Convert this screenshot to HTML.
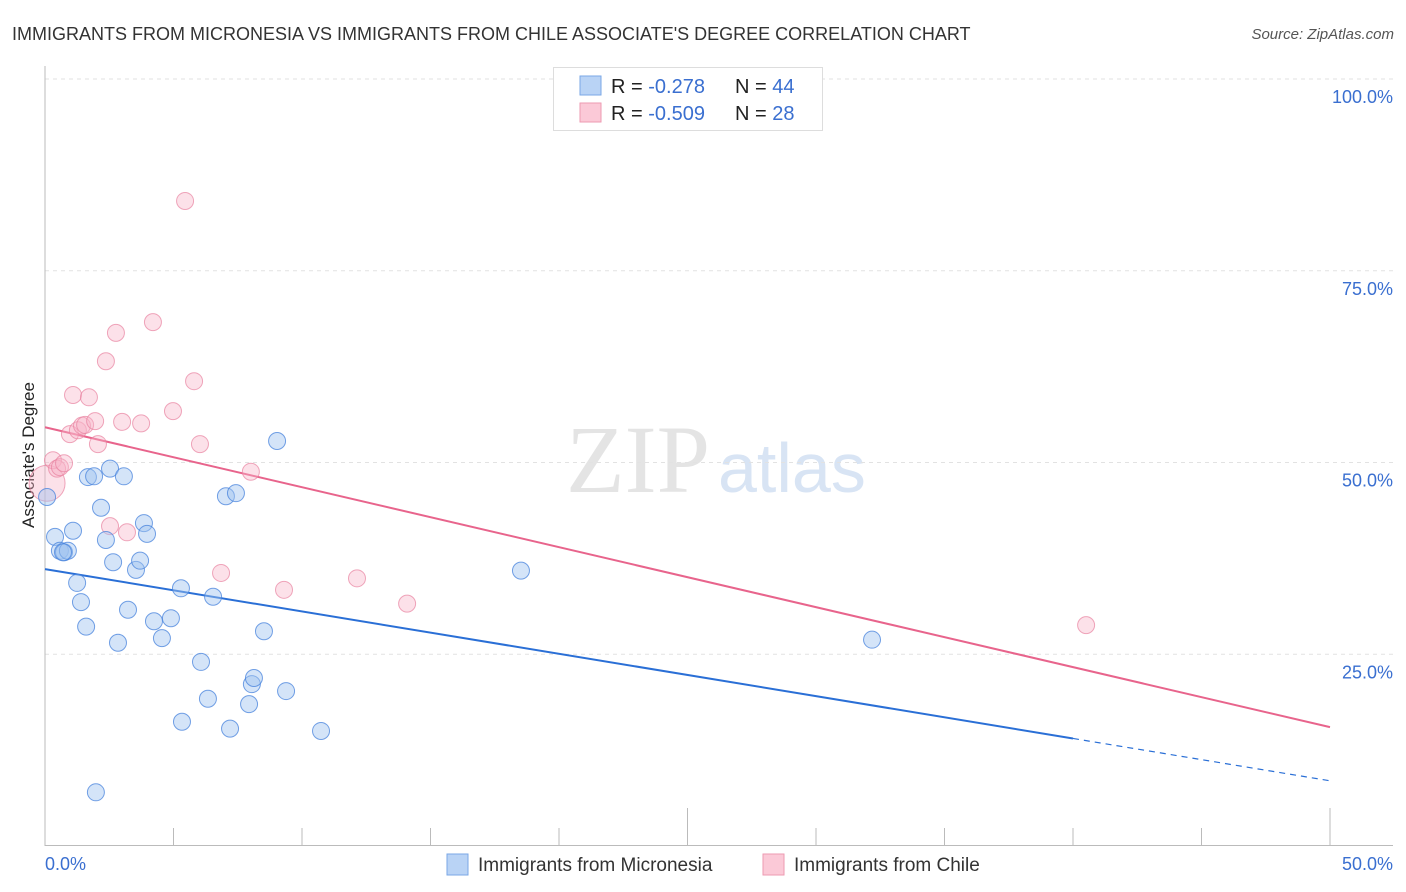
<!DOCTYPE html>
<html><head><meta charset="utf-8"><style>
body{margin:0;background:#fff;font-family:"Liberation Sans",sans-serif;}
svg{display:block}
</style></head><body>
<svg id="chart" width="1406" height="892">
<text x="12" y="40" font-size="18" fill="#333">IMMIGRANTS FROM MICRONESIA VS IMMIGRANTS FROM CHILE ASSOCIATE'S DEGREE CORRELATION CHART</text>
<text x="1394" y="39" font-size="15" fill="#555" text-anchor="end" font-style="italic">Source: ZipAtlas.com</text>
<text x="710" y="492" font-size="96" fill="#e4e4e4" text-anchor="end" font-family="Liberation Serif">ZIP</text>
<text x="718" y="492" font-size="70" fill="#d8e4f4">atlas</text>
<text transform="translate(34,455) rotate(-90)" font-size="17" fill="#222" text-anchor="middle">Associate's Degree</text>
<g id="grid"></g><g id="axes"></g><g id="trend"></g><g id="pts"></g>
<g>
<rect x="553.5" y="67.5" width="269" height="63" fill="#fff" stroke="#ddd"/>
<rect x="580" y="76" width="21" height="19" fill="#b9d3f5" stroke="#7aa7e6"/>
<rect x="580" y="103" width="21" height="19" fill="#fbc9d7" stroke="#ee9ab2"/>
<text x="611" y="93" font-size="20" fill="#222">R = <tspan fill="#3a6fd0">-0.278</tspan></text>
<text x="735" y="93" font-size="20" fill="#222">N = <tspan fill="#3a6fd0">44</tspan></text>
<text x="611" y="120" font-size="20" fill="#222">R = <tspan fill="#3a6fd0">-0.509</tspan></text>
<text x="735" y="120" font-size="20" fill="#222">N = <tspan fill="#3a6fd0"> 28</tspan></text>
</g>
<g>
<rect x="447" y="854" width="21" height="21" fill="#b9d3f5" stroke="#7aa7e6"/>
<text x="478" y="871" font-size="19" fill="#333">Immigrants from Micronesia</text>
<rect x="763" y="854" width="21" height="21" fill="#fbc9d7" stroke="#ee9ab2"/>
<text x="794" y="871" font-size="19" fill="#333">Immigrants from Chile</text>
</g>
</svg>
<script>
const blueX=[0.08,0.39,0.58,0.74,0.89,1.09,1.25,1.40,1.60,1.67,1.91,1.98,2.18,2.37,2.53,2.65,2.84,3.07,3.23,3.54,3.70,3.85,3.97,4.24,4.55,4.90,5.29,5.33,6.07,6.34,6.54,7.04,7.20,7.43,7.94,8.05,8.13,8.52,9.03,9.38,10.74,18.52,32.18,0.70];
const blueY=[45.5,40.3,38.5,38.3,38.5,41.1,34.3,31.8,28.6,48.1,48.2,7.0,44.1,39.9,49.2,37.0,26.5,48.2,30.8,36.0,37.2,42.1,40.7,29.3,27.1,29.7,33.6,16.2,24.0,19.2,32.5,45.6,15.3,46.0,18.5,21.1,21.9,28.0,52.8,20.2,15.0,35.9,26.9,38.3];
const pinkX=[0.08,0.31,0.47,0.58,0.74,0.97,1.09,1.28,1.44,1.56,1.71,1.95,2.06,2.37,2.53,2.76,3.00,3.19,3.74,4.20,4.98,5.45,5.80,6.03,6.85,8.01,9.30,12.14,14.09,40.51];
const pinkY=[47.3,50.3,49.2,49.4,49.9,53.7,58.8,54.2,54.8,54.9,58.5,55.4,52.4,63.2,41.7,66.9,55.3,40.9,55.1,68.3,56.7,84.1,60.6,52.4,35.6,48.8,33.4,34.9,31.6,28.8];
const blueTrend=[36.1,8.5];
const pinkTrend=[54.6,15.5];
const blueSolidEnd=40;
const yTicks=[25,50,75,100];
const yTickLabels=["25.0%","50.0%","75.0%","100.0%"];
const xTickLabels=["0.0%","50.0%"];
const NS="http://www.w3.org/2000/svg";
const X=v=>45+v*25.7, Y=v=>846-v*7.67;
function mk(tag,attrs,parent){const e=document.createElementNS(NS,tag);for(const k in attrs)e.setAttribute(k,attrs[k]);document.getElementById(parent).appendChild(e);return e;}
yTicks.forEach((t,i)=>{
 const g=mk('line',{x1:45,x2:1393,y1:Y(t),y2:Y(t),stroke:'#e2e2e2','stroke-dasharray':'4,4'},'grid');
 
 
 const l=mk('text',{x:1393,y:Y(t)+24,'font-size':18,fill:'#3a6fd0','text-anchor':'end'},'grid');
 l.textContent=yTickLabels[i];
 
 
});
const ya=mk('line',{x1:45,x2:45,y1:66,y2:846,stroke:'#bbb'},'axes');


const xa=mk('line',{x1:45,x2:1393,y1:845.5,y2:845.5,stroke:'#bbb'},'axes');


for(let i=0;i<=10;i++){
 const v=i*5;const long=(i===5||i===10);
 const t=mk('line',{x1:X(v),x2:X(v),y1:long?808:828,y2:846,stroke:'#bbb'},'axes');
 
 
}
[[0,'start'],[50,'end']].forEach((p,i)=>{
 const l=mk('text',{x:i?1393:45,y:870,'font-size':18,fill:'#3a6fd0','text-anchor':p[1]},'axes');
 l.textContent=xTickLabels[i];
 
 
});
const bAt=v=>blueTrend[0]+(blueTrend[1]-blueTrend[0])*v/50;
let t1=mk('line',{x1:X(0),y1:Y(blueTrend[0]),x2:X(blueSolidEnd),y2:Y(bAt(blueSolidEnd)),stroke:'#2a6fd6','stroke-width':2},'trend');


let t2=mk('line',{x1:X(blueSolidEnd),y1:Y(bAt(blueSolidEnd)),x2:X(50),y2:Y(blueTrend[1]),stroke:'#2a6fd6','stroke-width':1.2,'stroke-dasharray':'6,5'},'trend');


let t3=mk('line',{x1:X(0),y1:Y(pinkTrend[0]),x2:X(50),y2:Y(pinkTrend[1]),stroke:'#e8648c','stroke-width':2},'trend');


pinkX.forEach((x,i)=>{
 const c=mk('circle',{cx:X(x),cy:Y(pinkY[i]),r:i===0?18:8.5,fill:'rgba(248,180,200,0.4)',stroke:'rgba(232,130,160,0.7)','stroke-width':1},'pts');
 
 
});
blueX.forEach((x,i)=>{
 const c=mk('circle',{cx:X(x),cy:Y(blueY[i]),r:8.5,fill:'rgba(160,195,240,0.45)',stroke:'rgba(70,130,220,0.75)','stroke-width':1},'pts');
 
 
});
</script>
</body></html>
